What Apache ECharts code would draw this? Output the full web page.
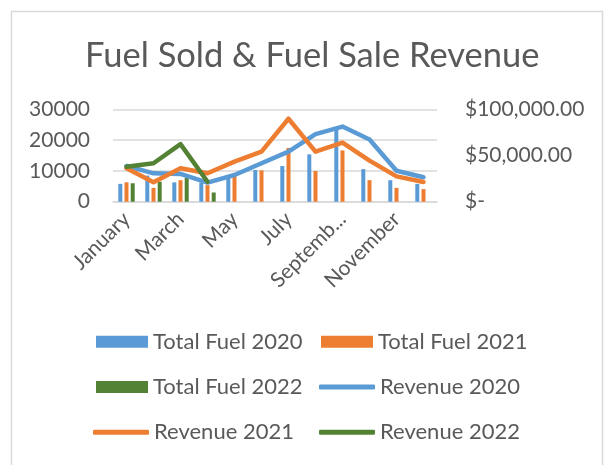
<!DOCTYPE html>
<html>
<head>
<meta charset="utf-8">
<script src="https://cdn.jsdelivr.net/npm/echarts@6/dist/echarts.min.js"></script>
<style>
html, body { margin: 0; padding: 0; background: #fff; }
#chart { width: 610px; height: 465px; }
</style>
</head>
<body>
<div id="chart"></div>
<script>
const months = ['January', 'February', 'March', 'April', 'May', 'June', 'July', 'August', 'September', 'October', 'November', 'December'];
const fuel2020 = [5800, 8500, 6300, 6200, 8700, 10300, 11600, 15400, 23400, 10600, 7000, 5800];
const fuel2021 = [6300, 4500, 7000, 5400, 9000, 10200, 17500, 10000, 16700, 7000, 4500, 4100];
const fuel2022 = [6000, 6500, 7800, 3000, null, null, null, null, null, null, null, null];
const revenue2020 = [38800, 30800, 30100, 20700, 29000, 41700, 54300, 73200, 81500, 67500, 33500, 26500];
const revenue2021 = [36300, 21000, 36300, 30800, 43500, 54300, 90000, 54300, 64100, 44500, 27500, 21300];
const revenue2022 = [38000, 41700, 62400, 21700, null, null, null, null, null, null, null, null];
const fuelTicks = [0, 30000, 10000];      // min, max, step
const revenueTicks = [0, 100000, 50000];

const blue = '#5B9BD5', orange = '#ED7D31', green = '#548235';
const font = 'Lato';
const grey = '#595959';

const chart = echarts.init(document.getElementById('chart'));

function bar(name, data, color) {
    return {
        name: name, type: 'bar', data: data,
        barWidth: 4, barGap: '55%',
        itemStyle: {color: color}
    };
}
function line(name, data, color) {
    return {
        name: name, type: 'line', data: data, yAxisIndex: 1,
        symbol: 'none', connectNulls: false,
        lineStyle: {color: color, width: 4.5, cap: 'round', join: 'round'},
        itemStyle: {color: color}
    };
}
const legendText = {color: grey, fontFamily: font, fontSize: 22, lineHeight: 24};
// bar legends use a 52x12 block, line legends a thin rounded bar
function barLegend(left, top, names) {
    return {
        orient: 'vertical', left: left, top: top, itemGap: 21.3, padding: 0,
        itemWidth: 52, itemHeight: 12, textStyle: legendText,
        data: names.map(n => ({name: n, icon: 'rect'}))
    };
}
function lineLegend(left, top, names) {
    return {
        orient: 'vertical', left: left, top: top, itemGap: 21.3, padding: 0,
        itemWidth: 56, itemHeight: 5, textStyle: legendText,
        data: names.map(n => ({name: n, icon: 'roundRect'}))
    };
}

chart.setOption({
    animation: false,
    backgroundColor: '#fff',
    graphic: [{
        type: 'rect', shape: {x: 11.5, y: 11.5, width: 591, height: 470},
        style: {fill: 'none', stroke: '#d9d9d9', lineWidth: 1.5}
    }],
    title: {
        text: 'Fuel Sold & Fuel Sale Revenue',
        left: 80, top: 33,
        textStyle: {color: grey, fontFamily: font, fontSize: 34.5, fontWeight: 'normal'}
    },
    legend: [
        barLegend(96, 329.7, ['Total Fuel 2020', 'Total Fuel 2022']),
        lineLegend(93, 420.3, ['Revenue 2021']),
        barLegend(321, 329.7, ['Total Fuel 2021']),
        lineLegend(319, 375, ['Revenue 2020', 'Revenue 2022'])
    ],
    grid: {left: 113, right: 173, top: 109.5, bottom: 263.3},
    xAxis: {
        type: 'category',
        data: months,
        axisLine: {lineStyle: {color: '#d9d9d9', width: 1.5}},
        axisTick: {show: false},
        axisLabel: {
            interval: 1, rotate: 45, margin: 14,
            color: grey, fontFamily: font, fontSize: 21,
            formatter: v => v.length > 8 ? v.slice(0, 7) + '...' : v
        }
    },
    yAxis: [
        {
            type: 'value', min: fuelTicks[0], max: fuelTicks[1], interval: fuelTicks[2],
            axisLine: {show: false}, axisTick: {show: false},
            splitLine: {lineStyle: {color: '#d9d9d9', width: 1.5}},
            axisLabel: {color: grey, fontFamily: font, fontSize: 21, margin: 23, formatter: v => String(v)}
        },
        {
            type: 'value', min: revenueTicks[0], max: revenueTicks[1], interval: revenueTicks[2],
            position: 'right',
            axisLine: {show: false}, axisTick: {show: false},
            splitLine: {show: false},
            axisLabel: {
                color: grey, fontFamily: font, fontSize: 21, margin: 28,
                formatter: v => v === 0 ? '$-' : '$' + v.toLocaleString('en-US', {minimumFractionDigits: 2})
            }
        }
    ],
    series: [
        bar('Total Fuel 2020', fuel2020, blue),
        bar('Total Fuel 2021', fuel2021, orange),
        bar('Total Fuel 2022', fuel2022, green),
        line('Revenue 2020', revenue2020, blue),
        line('Revenue 2021', revenue2021, orange),
        line('Revenue 2022', revenue2022, green)
    ]
});
</script>
</body>
</html>
